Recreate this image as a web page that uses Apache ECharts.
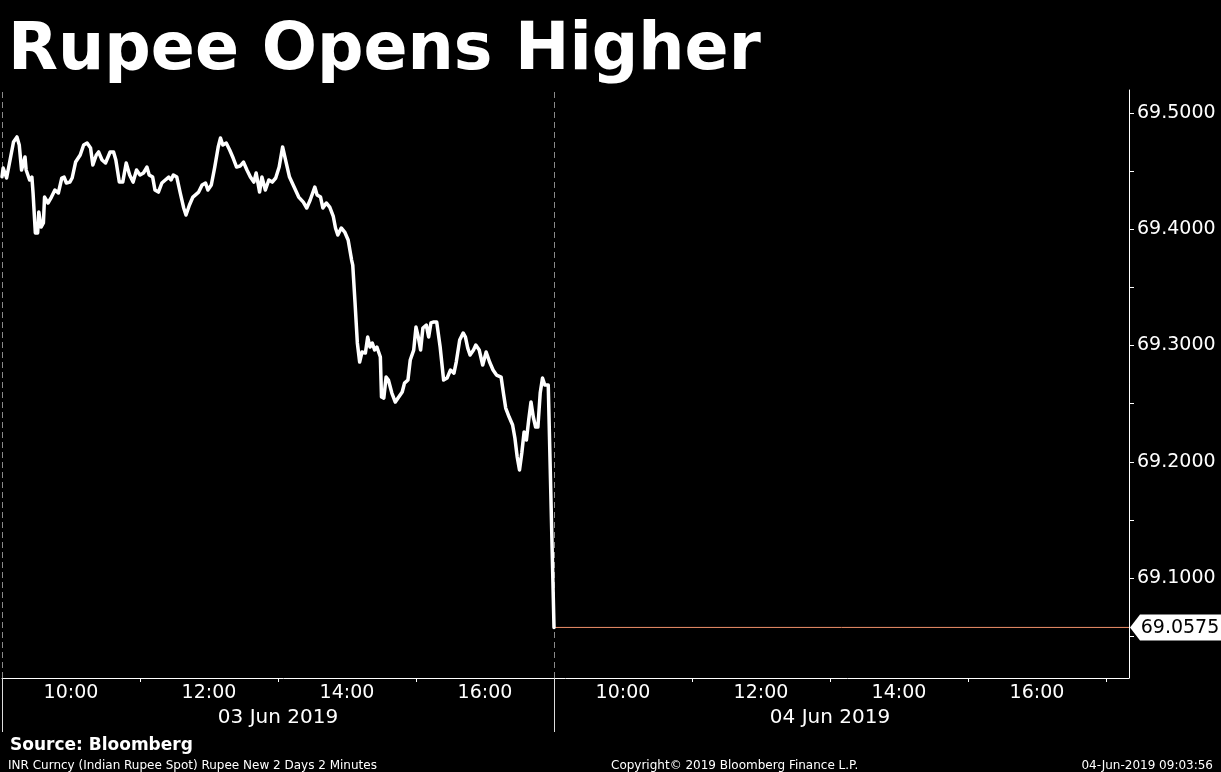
<!DOCTYPE html>
<html>
<head>
<meta charset="utf-8">
<script src="https://cdn.jsdelivr.net/npm/echarts@6/dist/echarts.min.js"></script>
<style>
html,body{margin:0;padding:0;background:#000;}
#chart{width:1221px;height:772px;}
</style>
</head>
<body>
<div id="chart"></div>
<script>
// ---- Data ----
// Day 1 (03 Jun 2019): minutes after 09:00
const day1Minutes = [0,1,4,7,10,13,15,17,20,21,24,26,27,29,31,32,34,36,37,40,43,46,49,52,54,56,59,61,64,68,71,74,77,79,82,84,87,90,94,97,99,102,105,108,111,114,117,120,123,126,128,131,133,136,139,142,145,147,149,152,155,158,160,163,166,171,174,177,179,182,185,188,190,192,195,198,201,204,207,210,213,216,219,221,224,226,229,232,235,238,241,244,247,250,254,258,262,265,268,272,274,277,279,282,285,288,290,292,295,298,301,304,305,307,309,311,313,316,318,320,322,324,326,329,330,332,334,336,339,342,345,348,350,353,355,358,360,362,364,366,369,371,373,375,378,381,384,387,390,393,395,398,401,403,405,407,410,412,415,418,421,424,427,430,434,436,438,441,444,446,448,450,452,454,456,458,460,462,464,466,468,470,472,475];
const day1Values = [69.4452,69.4527,69.4441,69.4596,69.4751,69.4794,69.4725,69.4510,69.4622,69.4510,69.4424,69.4449,69.4312,69.3968,69.3968,69.4148,69.4019,69.4054,69.4277,69.4226,69.4277,69.4338,69.4312,69.4441,69.4449,69.4398,69.4406,69.4441,69.4578,69.4639,69.4725,69.4742,69.4699,69.4553,69.4639,69.4665,69.4596,69.4570,69.4665,69.4665,69.4596,69.4406,69.4406,69.4570,69.4467,69.4406,69.4510,69.4467,69.4484,69.4535,69.4467,69.4449,69.4338,69.4320,69.4398,69.4424,69.4449,69.4424,69.4467,69.4449,69.4312,69.4183,69.4123,69.4209,69.4277,69.4320,69.4381,69.4398,69.4338,69.4381,69.4535,69.4708,69.4785,69.4725,69.4742,69.4682,69.4613,69.4535,69.4544,69.4578,69.4510,69.4449,69.4406,69.4484,69.4320,69.4449,69.4338,69.4424,69.4406,69.4441,69.4535,69.4708,69.4578,69.4449,69.4363,69.4277,69.4234,69.4183,69.4252,69.4363,69.4295,69.4277,69.4183,69.4226,69.4191,69.4114,69.4011,69.3951,69.4011,69.3976,69.3908,69.3735,69.3692,69.3366,69.3022,69.2858,69.2944,69.2935,69.3073,69.2987,69.3022,69.2961,69.2987,69.2901,69.2557,69.2548,69.2729,69.2703,69.2591,69.2514,69.2557,69.2600,69.2677,69.2703,69.2875,69.2961,69.3159,69.3073,69.2961,69.3151,69.3176,69.3073,69.3194,69.3202,69.3202,69.2987,69.2703,69.2720,69.2789,69.2763,69.2858,69.3047,69.3108,69.3073,69.2978,69.2918,69.2961,69.3004,69.2961,69.2832,69.2944,69.2858,69.2789,69.2746,69.2729,69.2591,69.2462,69.2385,69.2316,69.2204,69.2041,69.1929,69.2075,69.2256,69.2187,69.2359,69.2514,69.2385,69.2299,69.2299,69.2591,69.2720,69.2660,69.2660];
// Day 2 (04 Jun 2019): minutes after 09:00
const day2Minutes = [0];
const day2Values = [69.0575];

const dayNames = ['03 Jun 2019', '04 Jun 2019'];
const timeLabels = ['10:00', '12:00', '14:00', '16:00'];   // per day
const tickHours = [11, 13, 15, 17];                          // per day
const yLabels = [69.1, 69.2, 69.3, 69.4, 69.5];
const yTicks = [69.05, 69.1, 69.15, 69.2, 69.25, 69.3, 69.35, 69.4, 69.45, 69.5];
const axisEndTime = '17:20'; // right edge of day 2

// ---- Axis mapping: each session 09:00-17:00 takes 8 units ----
const SESSION = 8;
function hm(s){ const p = s.split(':'); return +p[0] + (+p[1])/60; }
function toU(day, hours){ return day * SESSION + (hours - 9); }
const xMax = toU(1, hm(axisEndTime));

const lineData = [];
day1Minutes.forEach((m, i) => { if (i < day1Values.length) lineData.push([toU(0, 9 + m/60), day1Values[i]]); });
day2Minutes.forEach((m, i) => lineData.push([toU(1, 9 + m/60), day2Values[i]]));
const lastVal = day2Values[day2Values.length - 1];
const lastU = toU(1, 9 + day2Minutes[day2Minutes.length - 1]/60);
const lastLine = [[lastU, lastVal], [xMax, lastVal]];

const labelVals = [], labelMap = {};
[0,1].forEach(d => timeLabels.forEach(t => { const u = toU(d, hm(t)); labelVals.push(u); labelMap[u.toFixed(3)] = t; }));
const tickVals = [];
[0,1].forEach(d => tickHours.forEach(h => { const u = toU(d, h); if (u <= xMax) tickVals.push(u); }));
const dayCenters = [toU(0, 13), toU(1, 13)];

const FONT = 'DejaVu Sans';
const chart = echarts.init(document.getElementById('chart'));
chart.setOption({
  backgroundColor: '#000',
  animation: false,
  title: [
    { text: 'Rupee Opens Higher', left: 3, top: 15,
      textStyle: { color: '#fff', fontSize: 65, fontWeight: 'bold', fontFamily: FONT } },
    { text: 'Source: Bloomberg', left: 5, top: 732,
      textStyle: { color: '#fff', fontSize: 17, fontWeight: 'bold', fontFamily: FONT } },
    { text: 'INR Curncy (Indian Rupee Spot) Rupee New 2 Days 2 Minutes', left: 3, top: 755,
      textStyle: { color: '#fff', fontSize: 12, fontWeight: 'normal', fontFamily: FONT } },
    { text: 'Copyright\u00a9 2019 Bloomberg Finance L.P.', left: 606, top: 755,
      textStyle: { color: '#fff', fontSize: 12, fontWeight: 'normal', fontFamily: FONT } },
    { text: '04-Jun-2019 09:03:56', right: 3, top: 755,
      textStyle: { color: '#fff', fontSize: 12, fontWeight: 'normal', fontFamily: FONT } }
  ],
  grid: { left: 2, right: 92, top: 90, bottom: 94, containLabel: false },
  xAxis: [
    { type: 'value', min: 0, max: xMax, gridIndex: 0,
      axisLine: { show: true, onZero: false, lineStyle: { color: '#fff', width: 1 } },
      axisTick: { show: true, customValues: tickVals, length: 4, lineStyle: { color: '#fff' } },
      axisLabel: { customValues: labelVals, color: '#fff', fontSize: 19, fontFamily: FONT, margin: 6,
        formatter: v => labelMap[v.toFixed(3)] || '' },
      splitLine: { show: false } },
    { type: 'value', min: 0, max: xMax, gridIndex: 0, position: 'bottom',
      axisLine: { show: false, onZero: false },
      axisTick: { show: true, customValues: [0, SESSION], length: 54, lineStyle: { color: '#ddd' } },
      axisLabel: { customValues: dayCenters, color: '#fff', fontSize: 20, fontFamily: FONT, margin: 30,
        formatter: v => dayNames[Math.round((v - 4) / SESSION)] },
      splitLine: { show: false } }
  ],
  yAxis: {
    type: 'value', position: 'right', min: 69.014, max: 69.5198, scale: true,
    axisLine: { show: true, onZero: false, lineStyle: { color: '#fff', width: 1 } },
    axisTick: { show: true, inside: false, customValues: yTicks, length: 5, lineStyle: { color: '#fff' } },
    axisLabel: { customValues: yLabels, color: '#fff', fontSize: 19, fontFamily: FONT, margin: 8,
      formatter: v => v.toFixed(4) },
    splitLine: { show: false }
  },
  series: [
    { type: 'line', data: lastLine, showSymbol: false, symbol: 'none', clip: false, z: 4,
      lineStyle: { color: '#f0906a', width: 1 },
      markPoint: { silent: true,
        symbol: 'path://M0,13 L10,0 L92,0 L92,26 L10,26 Z',
        symbolSize: [92, 26], symbolOffset: [47, 0], symbolKeepAspect: false,
        itemStyle: { color: '#fff' },
        label: { show: true, position: 'inside', offset: [4, 1], color: '#000', fontSize: 19, fontFamily: FONT,
          formatter: () => lastVal.toFixed(4) },
        data: [ { coord: [xMax, lastVal] } ] } },
    { type: 'line', data: lineData, showSymbol: false, symbol: 'none', clip: false, z: 5,
      lineStyle: { color: '#fff', width: 3.5, join: 'round', cap: 'round' },
      markLine: { silent: true, symbol: 'none', label: { show: false },
        lineStyle: { color: '#8a8a8a', type: [6, 4], width: 1 },
        data: [ { xAxis: 0 }, { xAxis: SESSION } ] } }
  ]
});
</script>
</body>
</html>
